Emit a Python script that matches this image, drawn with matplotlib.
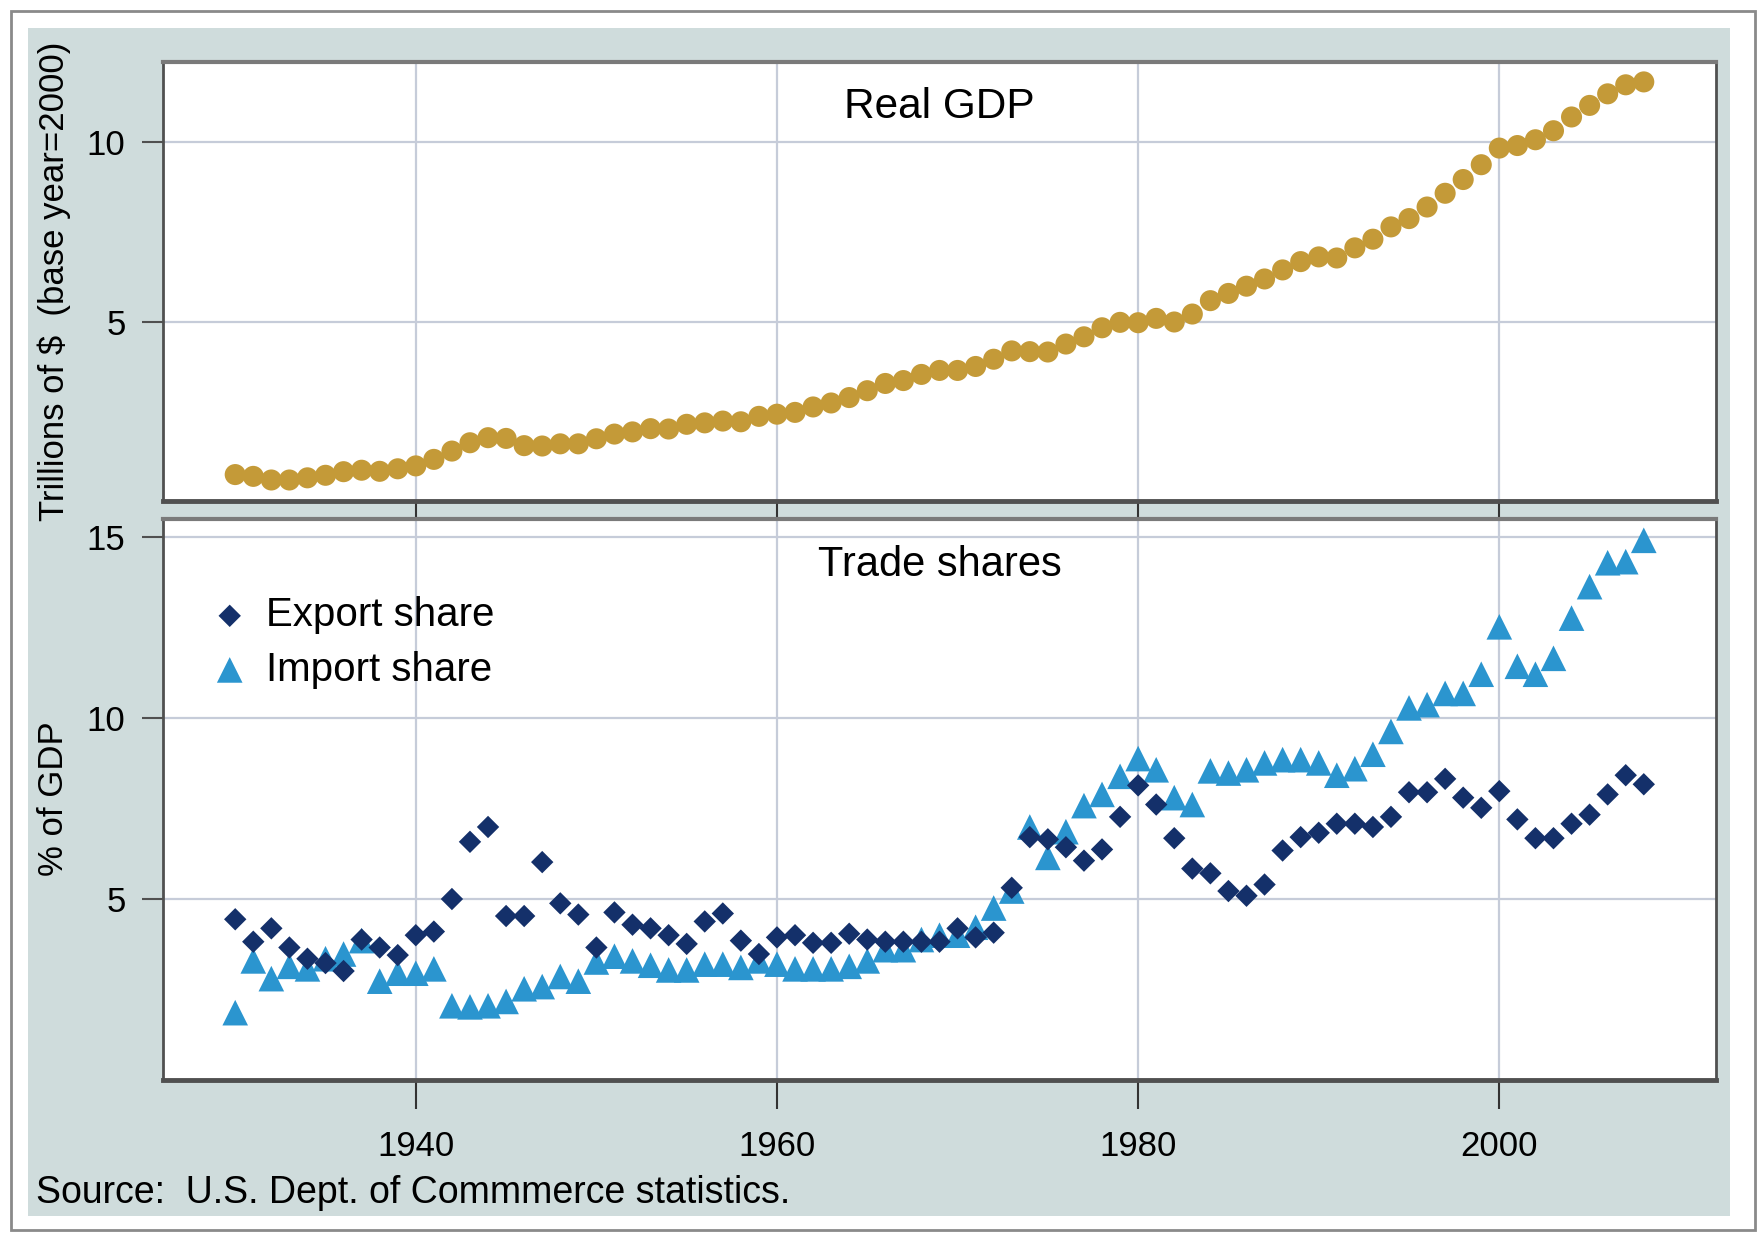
import matplotlib
matplotlib.use("Agg")
import matplotlib.pyplot as plt
from matplotlib.patches import Rectangle

plt.rcParams['font.family'] = ['Liberation Sans', 'DejaVu Sans']

# years 1930-2008
years = list(range(1930, 2009))

# real GDP, trillions of 2000 dollars
gdp = [0.79, 0.74, 0.64, 0.64, 0.70, 0.77, 0.87, 0.91, 0.88, 0.95,
       1.03, 1.21, 1.44, 1.67, 1.81, 1.79, 1.59, 1.58, 1.64, 1.64,
       1.78, 1.91, 1.97, 2.06, 2.05, 2.18, 2.22, 2.27, 2.25, 2.40,
       2.46, 2.51, 2.66, 2.77, 2.92, 3.11, 3.31, 3.39, 3.56, 3.67,
       3.67, 3.78, 3.98, 4.21, 4.19, 4.18, 4.40, 4.60, 4.85, 5.00,
       4.99, 5.11, 5.01, 5.23, 5.60, 5.80, 6.00, 6.20, 6.45, 6.68,
       6.81, 6.78, 7.06, 7.30, 7.64, 7.87, 8.19, 8.57, 8.95, 9.36,
       9.82, 9.89, 10.05, 10.30, 10.68, 11.00, 11.32, 11.57, 11.65]

# export share, % of GDP
exports = [4.44, 3.82, 4.19, 3.66, 3.35, 3.23, 3.01, 3.88, 3.66, 3.45,
           4.00, 4.10, 5.00, 6.58, 6.99, 4.53, 4.53, 6.02, 4.88, 4.57,
           3.66, 4.63, 4.29, 4.19, 4.00, 3.76, 4.38, 4.60, 3.85, 3.48,
           3.94, 4.00, 3.79, 3.79, 4.04, 3.88, 3.82, 3.82, 3.82, 3.82,
           4.19, 3.94, 4.07, 5.31, 6.71, 6.65, 6.43, 6.06, 6.37, 7.27,
           8.14, 7.61, 6.68, 5.84, 5.71, 5.22, 5.09, 5.40, 6.34, 6.71,
           6.83, 7.08, 7.08, 6.99, 7.27, 7.95, 7.95, 8.32, 7.80, 7.52,
           7.98, 7.20, 6.68, 6.68, 7.08, 7.33, 7.89, 8.42, 8.17]

# import share, % of GDP
imports = [1.86, 3.29, 2.80, 3.14, 3.07, 3.35, 3.48, 3.85, 2.73, 2.95,
           2.95, 3.07, 2.05, 2.02, 2.05, 2.17, 2.52, 2.58, 2.86, 2.73,
           3.26, 3.42, 3.29, 3.17, 3.04, 3.04, 3.20, 3.20, 3.11, 3.29,
           3.20, 3.07, 3.07, 3.07, 3.14, 3.29, 3.60, 3.60, 3.88, 4.00,
           4.00, 4.22, 4.75, 5.22, 6.99, 6.15, 6.86, 7.58, 7.89, 8.39,
           8.88, 8.57, 7.80, 7.61, 8.54, 8.48, 8.57, 8.76, 8.85, 8.85,
           8.76, 8.42, 8.60, 9.00, 9.63, 10.28, 10.37, 10.68, 10.68, 11.21,
           12.52, 11.43, 11.21, 11.65, 12.76, 13.63, 14.29, 14.32, 14.91]

xticks = [1940, 1960, 1980, 2000]

bg = '#cfdcdc'
grid_col = '#c6ccd9'
spine_col = '#505050'

fig = plt.figure(figsize=(17.62, 12.33), dpi=100)
fig.patch.set_facecolor('white')

# outer frame and shaded panel
fig.patches.append(Rectangle((0.0062, 0.0024), 0.9898, 0.9886, transform=fig.transFigure,
                             facecolor='white', edgecolor='#8a8a8a', lw=2, zorder=-3))
fig.patches.append(Rectangle((0.0159, 0.0138), 0.9659, 0.9632, transform=fig.transFigure,
                             facecolor=bg, edgecolor='none', zorder=-2))

ax1 = fig.add_axes([0.0925, 0.5937, 0.8814, 0.356])
ax2 = fig.add_axes([0.0925, 0.1241, 0.8814, 0.455])

for ax in (ax1, ax2):
    ax.set_zorder(1)
    ax.set_facecolor('white')
    ax.set_xlim(1926, 2012)
    ax.set_xticks(xticks)
    ax.grid(True, color=grid_col, lw=1.6)
    ax.set_axisbelow(True)
    for s in ax.spines.values():
        s.set_color(spine_col)
        s.set_linewidth(2)
    ax.tick_params(axis='y', length=15, width=1.5, color=spine_col,
                   labelsize=25, pad=12)
    ax.tick_params(axis='x', width=1.5, color='#333333')

ax1.spines['bottom'].set_linewidth(3.5)
ax1.spines['top'].set_color('#7a7a7a')
ax1.spines['top'].set_linewidth(3)
ax2.spines['top'].set_color('#7a7a7a')
ax2.spines['top'].set_linewidth(3)
ax2.spines['bottom'].set_linewidth(3.5)

# top panel: real GDP
ax1.scatter(years, gdp, s=230, color='#c49a38', edgecolors='none', zorder=3)
ax1.set_ylim(0.06, 12.2)
ax1.set_yticks([5, 10])
ax1.tick_params(axis='x', length=13, labelbottom=False)
ax1.text(0.5, 0.898, 'Real GDP', transform=ax1.transAxes, ha='center',
         va='center', fontsize=30.5)

# bottom panel: trade shares
ax2.scatter(years, imports, s=340, marker='^', color='#2b95cf',
            edgecolors='none', zorder=3, label='Import share')
ax2.scatter(years, exports, s=130, marker='D', color='#14306a',
            edgecolors='none', zorder=4, label='Export share')
ax2.set_ylim(0, 15.5)
ax2.set_yticks([5, 10, 15])
ax2.tick_params(axis='x', length=21, labelsize=25, pad=15)
ax2.text(0.5, 0.918, 'Trade shares', transform=ax2.transAxes, ha='center',
         va='center', fontsize=30)

h, l = ax2.get_legend_handles_labels()
ax2.legend(h[::-1], l[::-1], loc='upper left', bbox_to_anchor=(0.03, 0.862),
           frameon=False, fontsize=29, handlelength=1.0, handletextpad=0.4,
           borderpad=0, borderaxespad=0, labelspacing=0.4, scatterpoints=1)

fig.text(0.0306, 0.772, 'Trillions of $  (base year=2000)', rotation=90,
         ha='center', va='center', fontsize=25)
fig.text(0.0306, 0.352, '% of GDP', rotation=90, ha='center', va='center',
         fontsize=25)
fig.text(0.0204, 0.0324, 'Source:  U.S. Dept. of Commmerce statistics.',
         ha='left', va='center', fontsize=27)

fig.savefig('out.png', dpi=100, facecolor='white')
